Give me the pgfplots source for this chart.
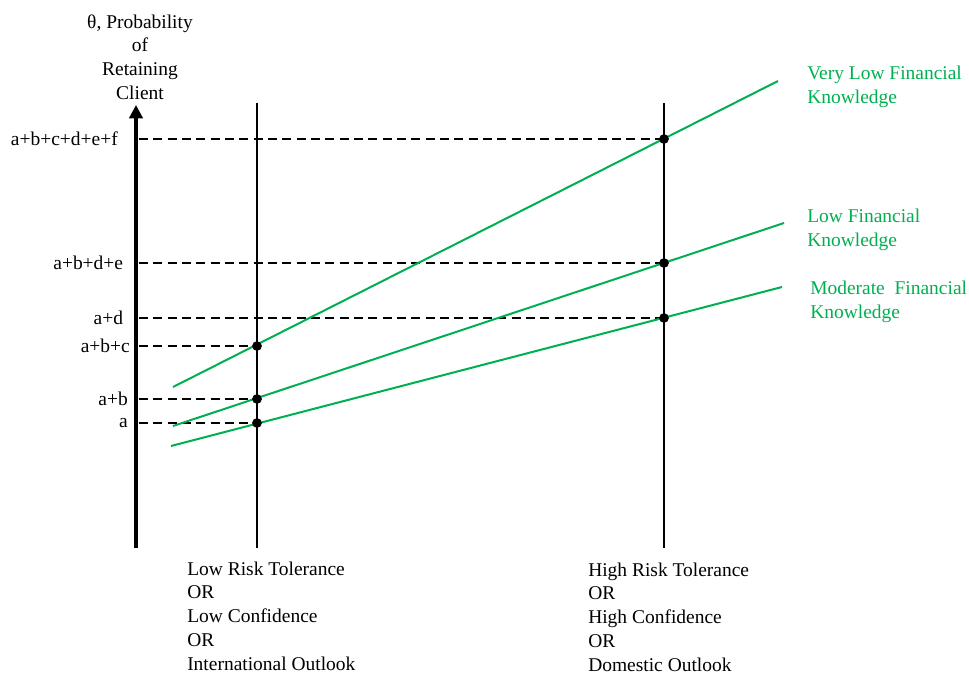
\documentclass[border=0pt]{standalone}
\usepackage{pgfplots}
\pgfplotsset{compat=1.18}
\usepackage{fontspec}
\setmainfont{Liberation Serif}
\usetikzlibrary{arrows.meta}
\definecolor{kgreen}{RGB}{0,176,80}

\begin{document}
\begin{tikzpicture}[font=\fontsize{14.6}{17.8}\selectfont]
\begin{axis}[
  x=0.75pt, y=0.75pt,
  xmin=136, xmax=969, ymin=127, ymax=570,
  axis x line=none, axis y line=left,
  y axis line style={line width=3.5pt, -{Triangle[length=10pt,width=10pt]}},
  major tick length=0pt,
  ytick={252,276,329,357,412,536},
  yticklabels={a\rule{1.5pt}{0pt}, a+b\rule{1.5pt}{0pt}, a+b+c, a+d\rule{5pt}{0pt}, a+b+d+e\rule{5pt}{0pt}, a+b+c+d+e+f\rule{9pt}{0pt}},
  yticklabel style={anchor=east, inner sep=0pt, xshift=-4.5pt},
  clip=false,
]
% vertical reference lines
\addplot[black, line width=1.6pt] coordinates {(257,127) (257,572)};
\addplot[black, line width=1.6pt] coordinates {(664,127) (664,572)};

% dashed level lines
\addplot[black, line width=1.3pt, dash pattern=on 6.75pt off 4pt] coordinates {(139,536) (664,536)};
\addplot[black, line width=1.3pt, dash pattern=on 6.75pt off 4pt] coordinates {(139,412) (664,412)};
\addplot[black, line width=1.3pt, dash pattern=on 6.75pt off 4pt] coordinates {(139,357) (664,357)};
\addplot[black, line width=1.3pt, dash pattern=on 6.75pt off 4pt] coordinates {(139,329) (257,329)};
\addplot[black, line width=1.3pt, dash pattern=on 6.75pt off 4pt] coordinates {(139,276) (257,276)};
\addplot[black, line width=1.3pt, dash pattern=on 6.75pt off 4pt] coordinates {(139,252) (257,252)};

% financial knowledge lines
\addplot[kgreen, line width=1.5pt] coordinates {(173,288) (778,594)};
\addplot[kgreen, line width=1.5pt] coordinates {(173,249) (784,452)};
\addplot[kgreen, line width=1.5pt] coordinates {(171,229) (782,388)};

% intersection points
\addplot[only marks, mark=*, mark size=3.4pt, black] coordinates {
  (257,329) (257,276) (257,252) (664,536) (664,412) (664,357)
};

\node[align=center, inner sep=0pt] at (axis cs:140,618) {θ, Probability\\of\\Retaining\\Client};

\node[kgreen, align=left, anchor=west, inner sep=0pt] at (axis cs:807,588) {Very Low Financial\\Knowledge};
\node[kgreen, align=left, anchor=west, inner sep=0pt] at (axis cs:807,445) {Low Financial\\Knowledge};
\node[kgreen, align=left, anchor=west, inner sep=0pt] at (axis cs:810,373) {Moderate\ \ Financial\\Knowledge};

\node[align=left, anchor=west, inner sep=0pt] at (axis cs:187,59) {Low Risk Tolerance\\OR\\Low Confidence\\OR\\International Outlook};
\node[align=left, anchor=west, inner sep=0pt] at (axis cs:588,58) {High Risk Tolerance\\OR\\High Confidence\\OR\\Domestic Outlook};

\coordinate (bl) at (axis cs:0,0);
\coordinate (tr) at (axis cs:969,675);
\end{axis}
\pgfresetboundingbox
\path[use as bounding box] (bl) rectangle (tr);
\end{tikzpicture}
\end{document}
